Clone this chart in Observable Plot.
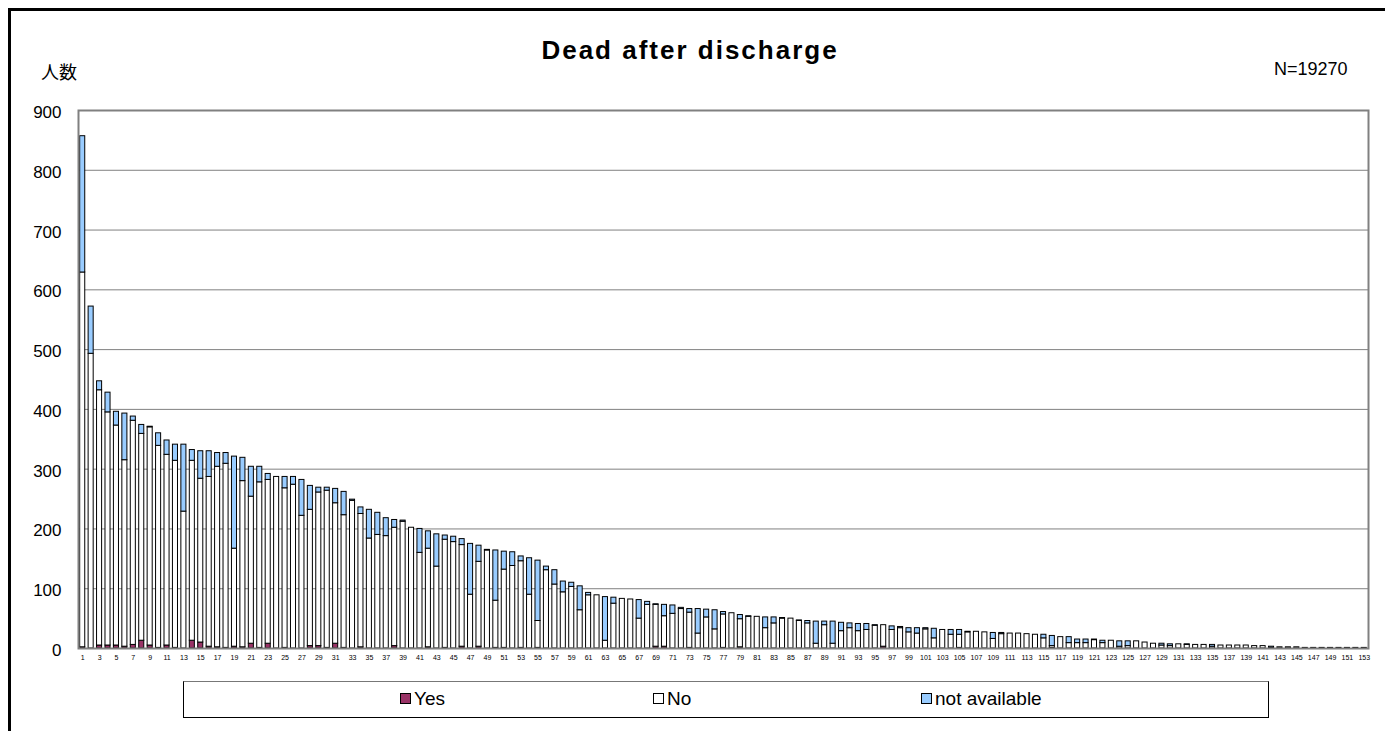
<!DOCTYPE html>
<html>
<head>
<meta charset="utf-8">
<script src="https://cdn.jsdelivr.net/npm/d3@7"></script>
<script src="https://cdn.jsdelivr.net/npm/@observablehq/plot@0.6"></script>
<style>
  body { margin: 0; background: #fff; font-family: "Liberation Sans", Arial, sans-serif; }
  #wrap { position: relative; width: 1385px; height: 731px; overflow: hidden; background: #fff; }
  #frame { position: absolute; left: 8px; top: 8px; width: 1400px; height: 800px; border: 3px solid #000; box-sizing: border-box; }
  #title { position: absolute; left: 0; width: 1380px; top: 35px; text-align: center; font-weight: bold; font-size: 26px; letter-spacing: 2px; }
  #ylab { position: absolute; left: 41px; top: 58px; font-family: "Noto Sans CJK JP", sans-serif; font-size: 18px; }
  #nlab { position: absolute; left: 1274px; top: 59px; font-size: 18px; }
  #chart { position: absolute; left: 0; top: 100px; }
  #legend { position: absolute; left: 183px; top: 681px; width: 1086px; height: 37px; border: 1.5px solid #000; border-top-color: #777; box-sizing: border-box; }
  .item { position: absolute; top: 6px; font-size: 19px; line-height: 22px; white-space: nowrap; }
  .sw { display: inline-block; width: 9px; height: 9px; border: 1px solid #000; margin-right: 3px; vertical-align: 1px; }
</style>
</head>
<body>
<div id="wrap">
  <div id="frame"></div>
  <div id="title">Dead after discharge</div>
  <div id="ylab">人数</div>
  <div id="nlab">N=19270</div>
  <div id="chart"></div>
  <div id="legend"></div>
</div>
<script>
const cats = [
  1,2,3,4,5,6,7,8,9,10,11,12,13,14,15,16,17,18,19,20,
  21,22,23,24,25,26,27,28,29,30,31,32,33,34,35,36,37,38,39,40,
  41,42,43,44,45,46,47,48,49,50,51,52,53,54,55,56,57,58,59,60,
  61,62,63,64,65,66,67,68,69,70,71,72,73,74,75,76,77,78,79,80,
  81,82,83,84,85,86,87,88,89,90,91,92,93,94,95,96,97,98,99,100,
  101,102,103,104,105,106,107,108,109,110,111,112,113,114,115,116,117,118,119,120,
  121,122,123,124,125,126,127,128,129,130,131,132,133,134,135,136,137,138,139,140,
  141,142,143,144,145,146,147,148,149,150,151,152,153
];
const seriesNames = ["Yes", "No", "not available"];
const seriesColors = ["#993366", "#ffffff", "#99ccff"];

const yes = [
  2,0,5,5,5,3,6,13,5,1,
  5,1,0,13,10,3,2,1,3,2,
  8,1,8,0,1,0,0,4,4,1,
  8,1,0,2,0,0,0,4,0,0,
  0,2,0,1,0,3,0,3,0,1,
  1,0,1,0,1,0,0,0,0,0,
  0,0,0,0,0,0,0,0,3,3,
  0,0,1,0,0,0,1,0,2,0,
  0,0,0,0,0,0,0,0,0,0,
  0,0,0,0,0,3,0,0,0,0,
  0,0,0,0,1,0,0,0,0,0,
  0,0,0,0,0,1,0,0,0,0,
  0,0,0,0,0,0,0,0,0,0,
  0,0,0,0,0,0,0,0,0,0,
  0,0,0,0,0,0,0,0,0,0,
  0,0,0
];
const no = [
  627,493,427,390,368,312,375,346,365,338,
  319,313,229,301,274,284,302,308,164,278,
  246,277,274,287,267,274,222,228,257,263,
  235,222,247,223,184,190,188,198,212,202,
  160,165,137,181,178,170,90,142,164,79,
  131,138,145,90,45,131,107,94,103,64,
  89,89,13,75,83,82,50,73,70,51,
  58,66,59,25,52,32,56,59,47,53,
  53,34,42,50,50,46,42,8,39,8,
  29,34,29,31,38,36,31,34,27,25,
  32,17,31,23,22,27,28,27,16,24,
  25,25,24,23,17,3,19,9,9,9,
  14,9,13,3,4,12,10,8,5,4,
  7,6,6,6,3,5,5,5,5,4,
  4,1,2,2,2,1,1,1,1,1,
  1,1,1
];
const notAvailable = [
  228,79,15,33,23,78,7,15,1,21,
  24,27,112,18,46,43,23,18,154,39,
  50,26,10,0,19,13,60,40,8,5,
  24,39,2,11,48,37,30,13,2,0,
  40,29,54,7,9,10,85,27,1,84,
  30,23,8,61,101,6,24,18,7,40,
  4,0,73,10,0,0,31,5,1,19,
  14,2,6,41,13,32,4,0,7,1,
  0,18,10,1,0,1,4,37,6,37,
  14,8,12,10,1,0,6,2,7,9,
  2,16,0,8,8,1,0,0,10,2,
  0,0,0,0,6,17,0,10,6,6,
  1,4,0,9,8,0,0,0,3,3,
  0,1,0,0,3,0,0,0,0,0,
  0,2,0,0,0,0,0,0,0,0,
  0,0,0
];
const yTicks = [0,100,200,300,400,500,600,700,800,900];
const xTickLabels = cats.filter(c => c % 2 === 1);

const seriesValues = [yes, no, notAvailable];
const data = [];
cats.forEach((c, i) => {
  seriesNames.forEach((s, k) => data.push({cat: c, series: s, value: seriesValues[k][i]}));
});

const chart = Plot.plot({
  width: 1385,
  height: 570,
  marginLeft: 78,
  marginRight: 17,
  marginTop: 10,
  marginBottom: 22,
  style: {fontFamily: "'Liberation Sans', Arial, sans-serif", background: "transparent", color: "#000"},
  x: {type: "band", domain: cats, paddingInner: 0.4, paddingOuter: 0.2, axis: null, label: null},
  y: {domain: [0, 900], axis: null, label: null},
  color: {domain: seriesNames, range: seriesColors},
  marks: [
    Plot.gridY(yTicks, {stroke: "#808080", strokeOpacity: 1, strokeWidth: 1}),
    Plot.barY(data, {x: "cat", y: "value", fill: "series", order: seriesNames, stroke: "#000", strokeWidth: 1}),
    Plot.frame({stroke: "#808080", strokeWidth: 2}),
    Plot.axisY(yTicks, {tickSize: 0, tickPadding: 17, fontSize: 17, dy: 2, label: null, fill: "#000"}),
    Plot.axisX(xTickLabels, {tickSize: 0, tickPadding: 7, fontSize: 7, label: null, fill: "#000"})
  ]
});
document.getElementById("chart").appendChild(chart);

const legend = document.getElementById("legend");
const legendX = [216, 469, 737];
seriesNames.forEach((s, k) => {
  const it = document.createElement("div");
  it.className = "item";
  it.style.left = legendX[k] + "px";
  const sw = document.createElement("span");
  sw.className = "sw";
  sw.style.background = seriesColors[k];
  it.appendChild(sw);
  it.appendChild(document.createTextNode(s));
  legend.appendChild(it);
});
</script>
</body>
</html>
